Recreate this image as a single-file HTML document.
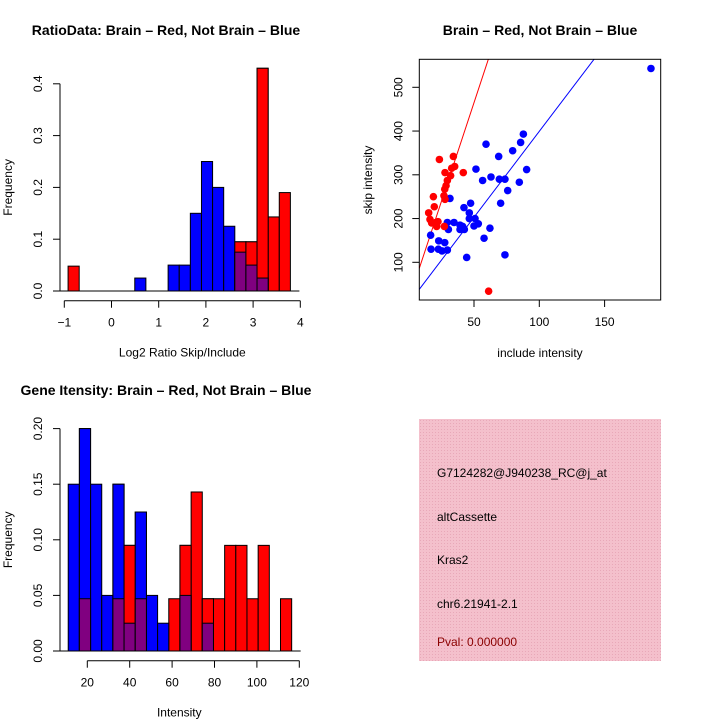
<!DOCTYPE html>
<html><head><meta charset="utf-8"><style>
body{margin:0;background:#fff}
svg{display:block;font-family:"Liberation Sans",sans-serif}
</style></head><body>
<svg id="c" width="720" height="720" viewBox="0 0 720 720" xmlns="http://www.w3.org/2000/svg">
<rect width="720" height="720" fill="#fff"/>
<defs><pattern id="hatch" width="3" height="3" patternUnits="userSpaceOnUse"><rect width="3" height="3" fill="#f4c0cc"/><rect width="1" height="1" fill="#e8a8b8"/></pattern></defs>
<g id="p1"></g>
<g id="p2"></g>
<g id="p3"></g>
<g>
<rect x="419" y="419" width="242" height="242" fill="url(#hatch)"/>
<text x="437" y="477" font-size="12">G7124282@J940238_RC@j_at</text>
<text x="437" y="521" font-size="12">altCassette</text>
<text x="437" y="564" font-size="12">Kras2</text>
<text x="437" y="608" font-size="12">chr6.21941-2.1</text>
<text x="437" y="646" font-size="12" fill="#8b0000">Pval: 0.000000</text>
</g>
</svg>
<script>
// Ratio histogram data
const ratioStart=-0.92, ratioWidth=0.2355;
const ratioRed=[0.048,0,0,0,0,0,0,0,0,0,0,0,0,0,0,0.095,0.095,0.43,0.143,0.19];
const ratioBlue=[0,0,0,0,0,0,0.025,0,0,0.05,0.05,0.15,0.25,0.2,0.125,0.075,0.05,0.025,0,0];
const ratioXTicks=[-1,0,1,2,3,4];
const ratioYTicks=[0,0.1,0.2,0.3,0.4];
// Gene intensity histogram data
const intStart=11, intWidth=5.27;
const intRed=[0,0.047,0,0,0.047,0.095,0.047,0,0,0.047,0.095,0.143,0.047,0.047,0.095,0.095,0.047,0.095,0,0.047];
const intBlue=[0.15,0.2,0.15,0.05,0.15,0.025,0.125,0.05,0.025,0,0.05,0,0.025,0,0,0,0,0,0,0];
const intXTicks=[20,40,60,80,100,120];
const intYTicks=[0,0.05,0.1,0.15,0.2];
// Scatter data
const redX=[15.3,16.3,17.6,18.9,19.6,20.7,21.4,22.4,23.5,27.3,27.0,27.6,27.8,27.8,28.6,29.6,32.1,32.9,34.2,35.2,41.8,61.2];
const redY=[213,198,190,250,227,191,182,193,335,182,252,267,244,305,275,287,298,315,342,319,305,34];
const blueX=[16.8,17.1,23.0,22.7,25.5,27.6,29.6,29.6,30.4,31.6,34.7,39.3,39.3,41.3,42.6,42.3,44.4,46.4,46.4,47.4,50.8,50.0,53.3,51.5,56.6,57.7,59.2,62.2,63.0,68.9,69.4,70.4,73.7,73.7,75.8,79.6,84.7,85.7,87.8,90.3,185.5];
const blueY=[162,130,149,130,126,145,128,191,175,246,191,185,175,182,175,225,111,213,200,235,200,183,188,313,287,155,370,178,295,342,290,235,290,117,264,355,283,374,393,312,543];
const redLine=[12.8,9.04];
const blueLine=[6.4,3.93];
const scXTicks=[50,100,150];
const scYTicks=[100,200,300,400,500];

const NS="http://www.w3.org/2000/svg";
function mk(parent,tag,attrs,name){const e=document.createElementNS(NS,tag);for(const k in attrs)e.setAttribute(k,attrs[k]);


parent.appendChild(e);return e;}
function txt(parent,x,y,s,name,extra){const t=mk(parent,'text',Object.assign({x:x,y:y,'font-size':12,'text-anchor':'middle'},extra||{}),name);t.textContent=s;return t;}

function hist(g,start,width,red,blue,sx,sy,x0axis,xticks,yticks,axisY,xlab,title,titleY,xAxisStart){
  const y0=sy(0);
  red.forEach((v,i)=>{ if(v<=0) return; const a=start+i*width;
    mk(g,'rect',{x:sx(a),y:sy(v),width:sx(a+width)-sx(a),height:y0-sy(v),fill:'#ff0000',stroke:'#000','stroke-width':1},'red-bar');});
  blue.forEach((v,i)=>{ if(v<=0) return; const a=start+i*width;
    mk(g,'rect',{x:sx(a),y:sy(v),width:sx(a+width)-sx(a),height:y0-sy(v),fill:'#0000ff',stroke:'#000','stroke-width':1},'blue-bar');});
  red.forEach((v,i)=>{ const m=Math.min(v,blue[i]); if(m<=0) return; const a=start+i*width;
    const hi=Math.max(v,blue[i]);
    mk(g,'rect',{x:sx(a),y:sy(hi),width:sx(a+width)-sx(a),height:y0-sy(hi),fill:v>blue[i]?'#ff0000':'#0000ff',stroke:'#000','stroke-width':1},'top-bar');
    mk(g,'rect',{x:sx(a),y:sy(m),width:sx(a+width)-sx(a),height:y0-sy(m),fill:'#800080',stroke:'#000','stroke-width':1},'overlap-bar');});
  mk(g,'line',{x1:x0axis-2,x2:sx(start+width*red.length)+9,y1:y0,y2:y0,stroke:'#000'},'baseline');
  mk(g,'line',{x1:x0axis,x2:x0axis,y1:sy(yticks[0]),y2:sy(yticks[yticks.length-1]),stroke:'#000'},'y-axis');
  yticks.forEach(v=>{const y=sy(v);mk(g,'line',{x1:x0axis-7,x2:x0axis,y1:y,y2:y,stroke:'#000'},'y-tick');
    txt(g,0,0,v.toFixed(yticks[1]<0.1?2:1),'y-tick-label',{transform:`translate(${x0axis-18},${y}) rotate(-90)`});});
  mk(g,'line',{x1:sx(xAxisStart),x2:sx(xticks[xticks.length-1]),y1:axisY,y2:axisY,stroke:'#000'},'x-axis');
  xticks.forEach(v=>{const x=sx(v);mk(g,'line',{x1:x,x2:x,y1:axisY,y2:axisY+7,stroke:'#000'},'x-tick');
    if(v>=xAxisStart) txt(g,x,axisY+26,String(v).replace('-','\u2212'),'x-tick-label');});
  txt(g,sx((xticks[0]+xticks[xticks.length-1])/2)+ (xlab==='Intensity'?-14:0),axisY+56,xlab,'x-axis-title');
  txt(g,0,0,'Frequency','y-axis-title',{transform:`translate(12,${(sy(yticks[0])+sy(yticks[yticks.length-1]))/2}) rotate(-90)`});
  txt(g,166,titleY,title,'plot-title',{'font-size':14,'font-weight':'bold'});
}

const p1=document.getElementById('p1');
const sx1=v=>64.3+(v+1)*47.2, sy1=v=>291-v*518;
hist(p1,ratioStart,ratioWidth,ratioRed,ratioBlue,sx1,sy1,60,ratioXTicks,ratioYTicks,300.7,'Log2 Ratio Skip/Include','RatioData: Brain \u2013 Red, Not Brain \u2013 Blue',35,-1);
const p3=document.getElementById('p3');
const sx3=v=>87.3+(v-20)*2.12, sy3=v=>651-v*1112;
hist(p3,intStart,intWidth,intRed,intBlue,sx3,sy3,60,intXTicks,intYTicks,660.7,'Intensity','Gene Itensity: Brain \u2013 Red, Not Brain \u2013 Blue',395,20);

const p2=document.getElementById('p2');
const sx2=v=>474+(v-50)*1.306, sy2=v=>262.3-(v-100)*0.4375;
const L=419.3,R=660.7,T=59.3,B=300;
const xmin=50-(474-L)/1.306, xmax=50+(R-474)/1.306;
const cp=mk(p2,'clipPath',{id:'clip2'},'clip');
mk(cp,'rect',{x:L,y:T,width:R-L,height:B-T},'clip-rect');
[[redLine,'#ff0000','red-fit-line'],[blueLine,'#0000ff','blue-fit-line']].forEach(([ln,c,n])=>{
  mk(p2,'line',{x1:sx2(xmin),y1:sy2(ln[0]+ln[1]*xmin),x2:sx2(xmax),y2:sy2(ln[0]+ln[1]*xmax),stroke:c,'stroke-width':1,'clip-path':'url(#clip2)'},n);});
blueX.forEach((x,i)=>mk(p2,'circle',{cx:sx2(x),cy:sy2(blueY[i]),r:3.8,fill:'#0000ff'},'blue-point'));
redX.forEach((x,i)=>mk(p2,'circle',{cx:sx2(x),cy:sy2(redY[i]),r:3.8,fill:'#ff0000'},'red-point'));
mk(p2,'rect',{x:L,y:T,width:R-L,height:B-T,fill:'none',stroke:'#000'},'plot-box');
scXTicks.forEach(v=>{const x=sx2(v);mk(p2,'line',{x1:x,x2:x,y1:B,y2:B+7,stroke:'#000'},'x-tick');txt(p2,x,B+26,String(v),'x-tick-label');});
scYTicks.forEach(v=>{const y=sy2(v);mk(p2,'line',{x1:L-7,x2:L,y1:y,y2:y,stroke:'#000'},'y-tick');
  txt(p2,0,0,String(v),'y-tick-label',{transform:`translate(${L-17},${y}) rotate(-90)`});});
txt(p2,540,357,'include intensity','x-axis-title');
txt(p2,0,0,'skip intensity','y-axis-title',{transform:`translate(372,180) rotate(-90)`});
txt(p2,540,35,'Brain \u2013 Red, Not Brain \u2013 Blue','plot-title',{'font-size':14,'font-weight':'bold'});
</script>
</body></html>
